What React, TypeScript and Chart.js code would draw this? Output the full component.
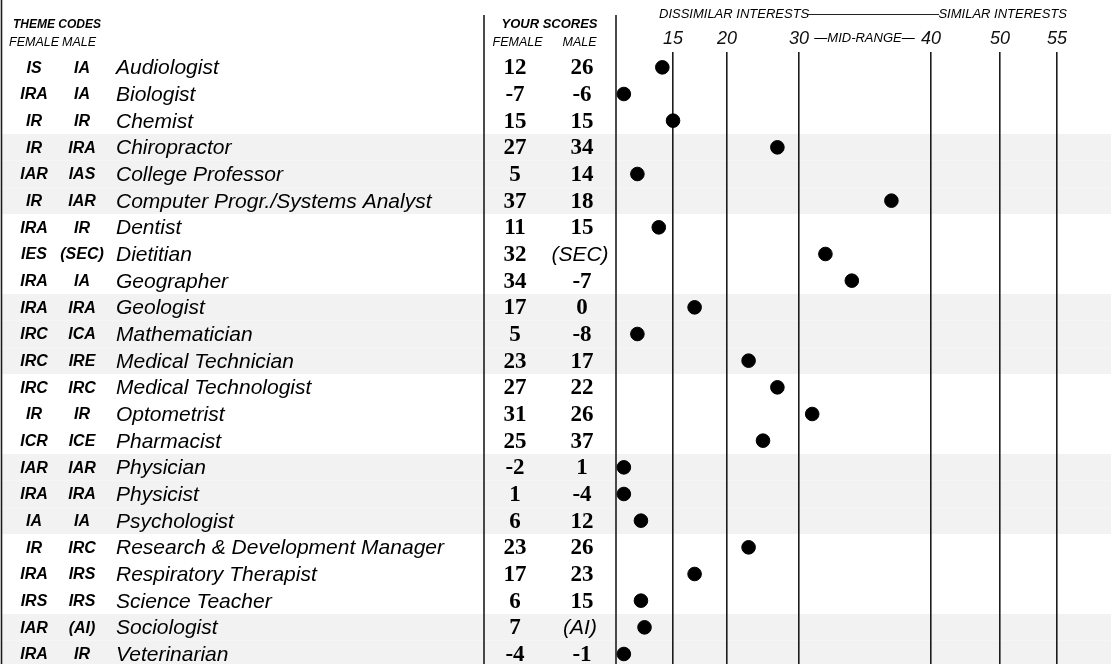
import React, { useEffect, useRef } from 'react';
import { Chart, registerables, LinearScale } from 'chart.js';

Chart.register(...registerables);

// ---- data ----
const OCCUPATIONS = [
  'Audiologist', 'Biologist', 'Chemist', 'Chiropractor', 'College Professor',
  'Computer Progr./Systems Analyst', 'Dentist', 'Dietitian', 'Geographer', 'Geologist',
  'Mathematician', 'Medical Technician', 'Medical Technologist', 'Optometrist', 'Pharmacist',
  'Physician', 'Physicist', 'Psychologist', 'Research & Development Manager',
  'Respiratory Therapist', 'Science Teacher', 'Sociologist', 'Veterinarian',
];
const FEMALE_CODES = [
  'IS', 'IRA', 'IR', 'IR', 'IAR', 'IR', 'IRA', 'IES', 'IRA', 'IRA', 'IRC', 'IRC',
  'IRC', 'IR', 'ICR', 'IAR', 'IRA', 'IA', 'IR', 'IRA', 'IRS', 'IAR', 'IRA',
];
const MALE_CODES = [
  'IA', 'IA', 'IR', 'IRA', 'IAS', 'IAR', 'IR', '(SEC)', 'IA', 'IRA', 'ICA', 'IRE',
  'IRC', 'IR', 'ICE', 'IAR', 'IRA', 'IA', 'IRC', 'IRS', 'IRS', '(AI)', 'IR',
];
const FEMALE_SCORES = [12, -7, 15, 27, 5, 37, 11, 32, 34, 17, 5, 23, 27, 31, 25, -2, 1, 6, 23, 17, 6, 7, -4];
const MALE_SCORES: (number | string)[] = [26, -6, 15, 34, 14, 18, 15, '(SEC)', -7, 0, -8, 17, 22, 26, 37, 1, -4, 12, 26, 23, 15, '(AI)', -1];
const TICK_VALUES = [15, 20, 30, 40, 50, 55];

// piecewise standard-score axis (value breakpoints -> fraction of plot width)
const SCALE_BREAKS = [-1, 15, 20, 30, 40, 50, 55, 60];
const SCALE_STOPS = [0, 0.1152, 0.2242, 0.3697, 0.6364, 0.7758, 0.8909, 1];
const SCALE_FLOOR = 1.2;

class PiecewiseScale extends LinearScale {
  static id = 'piecewise';
  static defaults = LinearScale.defaults;
  toDecimal(v: number) {
    const val = Math.max(v, SCALE_FLOOR);
    if (val <= SCALE_BREAKS[0]) return SCALE_STOPS[0];
    for (let i = 1; i < SCALE_BREAKS.length; i++) {
      if (val <= SCALE_BREAKS[i]) {
        const t = (val - SCALE_BREAKS[i - 1]) / (SCALE_BREAKS[i] - SCALE_BREAKS[i - 1]);
        return SCALE_STOPS[i - 1] + t * (SCALE_STOPS[i] - SCALE_STOPS[i - 1]);
      }
    }
    return SCALE_STOPS[SCALE_STOPS.length - 1];
  }
  getPixelForValue(v: number) {
    return this.getPixelForDecimal(this.toDecimal(v));
  }
  getValueForPixel(p: number) {
    const d = this.getDecimalForPixel(p);
    for (let i = 1; i < SCALE_STOPS.length; i++) {
      if (d <= SCALE_STOPS[i]) {
        const t = (d - SCALE_STOPS[i - 1]) / (SCALE_STOPS[i] - SCALE_STOPS[i - 1]);
        return SCALE_BREAKS[i - 1] + t * (SCALE_BREAKS[i] - SCALE_BREAKS[i - 1]);
      }
    }
    return SCALE_BREAKS[SCALE_BREAKS.length - 1];
  }
}
Chart.register(PiecewiseScale as any);

const SANS = '"Liberation Sans", Arial, Helvetica, sans-serif';
const SERIF = '"Liberation Serif", "Times New Roman", serif';
const LINE = '#1c1c1c';

const tablePlugin = {
  id: 'tablePlugin',
  beforeDraw(chart: any) {
    const { ctx, width, height } = chart;
    const y = chart.scales.y;
    ctx.save();
    ctx.fillStyle = '#ffffff';
    ctx.fillRect(0, 0, width, height);
    ctx.fillStyle = '#f2f2f2';
    OCCUPATIONS.forEach((_, i) => {
      if (Math.floor(i / 3) % 2 === 1) {
        const top = y.getPixelForValue(i - 0.5);
        const bot = y.getPixelForValue(i + 0.5);
        ctx.fillRect(2, top, width - 2, bot - top);
      }
    });
    ctx.restore();
  },
  beforeDatasetsDraw(chart: any) {
    const { ctx, height, chartArea } = chart;
    ctx.save();
    ctx.strokeStyle = LINE;
    ctx.lineWidth = 1.6;
    const vline = (x: number, y0: number) => {
      ctx.beginPath();
      ctx.moveTo(x, y0);
      ctx.lineTo(x, height);
      ctx.stroke();
    };
    vline(1.5, 0);
    vline(484, 15);
    vline(chartArea.left, 15);
    ctx.restore();
  },
  afterDraw(chart: any) {
    const { ctx } = chart;
    const y = chart.scales.y;
    ctx.save();
    ctx.fillStyle = '#000';
    ctx.textBaseline = 'middle';

    // headers
    ctx.textAlign = 'left';
    ctx.font = `italic bold 12px ${SANS}`;
    ctx.fillText('THEME CODES', 13, 25);
    ctx.font = `italic 12.5px ${SANS}`;
    ctx.fillText('FEMALE', 9, 43);
    ctx.fillText('MALE', 62, 43);

    ctx.textAlign = 'center';
    ctx.font = `italic bold 13px ${SANS}`;
    ctx.fillText('YOUR SCORES', 549.5, 24);
    ctx.font = `italic 12.5px ${SANS}`;
    ctx.fillText('FEMALE', 517.5, 43);
    ctx.fillText('MALE', 579.5, 43);

    ctx.textAlign = 'left';
    ctx.font = `italic 13px ${SANS}`;
    ctx.fillText('DISSIMILAR INTERESTS', 659, 14);
    ctx.textAlign = 'right';
    ctx.fillText('SIMILAR INTERESTS', 1067, 14);
    ctx.textAlign = 'center';
    ctx.fillText('\u2014MID-RANGE\u2014', 864.5, 38);
    ctx.strokeStyle = '#222';
    ctx.lineWidth = 1;
    ctx.beginPath();
    ctx.moveTo(808, 14.5);
    ctx.lineTo(939, 14.5);
    ctx.stroke();

    // rows
    OCCUPATIONS.forEach((name, i) => {
      const cy = y.getPixelForValue(i) + 1;
      ctx.textAlign = 'center';
      ctx.font = `italic bold 16px ${SANS}`;
      ctx.fillText(FEMALE_CODES[i], 34, cy);
      ctx.fillText(MALE_CODES[i], 82, cy);
      ctx.textAlign = 'left';
      ctx.font = `italic 21px ${SANS}`;
      ctx.fillText(name, 116, cy);
      ctx.textAlign = 'center';
      ctx.font = `bold 23px ${SERIF}`;
      ctx.fillText(String(FEMALE_SCORES[i]), 515, cy);
      const m = MALE_SCORES[i];
      if (typeof m === 'number') {
        ctx.font = `bold 23px ${SERIF}`;
        ctx.fillText(String(m), 582, cy);
      } else {
        ctx.font = `italic 21px ${SANS}`;
        ctx.fillText(m, 580, cy);
      }
    });
    ctx.restore();
  },
};

export default function App() {
  const ref = useRef<HTMLCanvasElement>(null);
  useEffect(() => {
    if (!ref.current) return;
    const chart = new Chart(ref.current, {
      type: 'scatter',
      data: {
        datasets: [
          {
            data: FEMALE_SCORES.map((v, i) => ({ x: v, y: i })),
            backgroundColor: '#000',
            borderColor: '#000',
            pointRadius: 6.8,
            pointHoverRadius: 6.8,
          },
        ],
      },
      options: {
        animation: false,
        responsive: false,
        devicePixelRatio: 1,
        layout: { autoPadding: false, padding: { left: 616, top: 24, right: 0, bottom: 0 } },
        plugins: { legend: { display: false }, tooltip: { enabled: false } },
        events: [],
        scales: {
          x: {
            type: 'piecewise' as any,
            position: 'top',
            min: -1,
            max: 60,
            afterBuildTicks: (s: any) => {
              s.ticks = TICK_VALUES.map((value) => ({ value }));
            },
            afterFit: (s: any) => {
              s.height = 30;
            },
            grid: { color: LINE, lineWidth: 1.6, drawTicks: true, tickLength: 2, tickColor: LINE },
            border: { display: false },
            ticks: {
              padding: 2,
              autoSkip: false,
              maxRotation: 0,
              color: '#111',
              font: { family: SANS, size: 18, style: 'italic' },
              callback: (v: any) => String(v),
            },
          } as any,
          y: {
            type: 'linear',
            display: false,
            reverse: true,
            min: -0.5,
            max: 22.375,
          },
        },
      },
      plugins: [tablePlugin],
    });
    return () => chart.destroy();
  }, []);
  return (
    <div style={{ position: 'fixed', left: 0, top: 0, width: 1111, height: 664, background: '#fff' }}>
      <canvas ref={ref} width={1111} height={664} style={{ width: 1111, height: 664, display: 'block' }} />
    </div>
  );
}
